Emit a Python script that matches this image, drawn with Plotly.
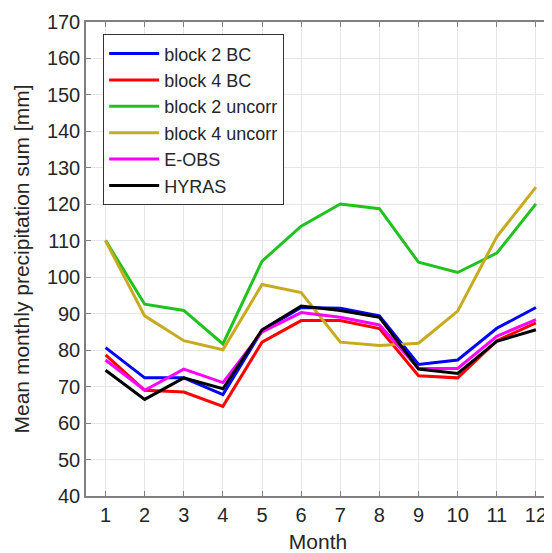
import plotly.graph_objects as go

months = list(range(1, 13))
block2_bc = [80.7, 72.4, 72.4, 67.8, 85.4, 91.7, 91.5, 89.4, 76.1, 77.3, 86.0, 91.7]
block4_bc = [78.7, 69.0, 68.5, 64.6, 82.2, 88.1, 88.1, 85.9, 73.0, 72.4, 82.6, 87.5]
block2_uncorr = [110.1, 92.6, 90.9, 81.7, 104.4, 114.0, 120.1, 118.8, 104.1, 101.3, 106.6, 120.1]
block4_uncorr = [110.0, 89.4, 82.6, 80.1, 98.0, 95.8, 82.2, 81.3, 81.9, 90.7, 111.1, 124.7]
e_obs = [77.3, 69.0, 74.8, 71.1, 85.0, 90.3, 89.0, 86.9, 75.0, 75.0, 83.8, 88.4]
hyras = [74.5, 66.5, 72.4, 69.4, 85.6, 92.1, 90.9, 89.0, 74.8, 73.6, 82.4, 85.6]

series = [
    ("block 2 BC", block2_bc, "#0000ff"),
    ("block 4 BC", block4_bc, "#ff0000"),
    ("block 2 uncorr", block2_uncorr, "#1fc21f"),
    ("block 4 uncorr", block4_uncorr, "#c8aa1e"),
    ("E-OBS", e_obs, "#ff00ff"),
    ("HYRAS", hyras, "#000000"),
]

fig = go.Figure()
for name, vals, col in series:
    fig.add_trace(go.Scatter(x=months, y=vals, mode="lines", name=name,
                             line=dict(color=col, width=3)))

font = "Liberation Sans, Arial, sans-serif"
# page body has an 8px default margin, so the figure is sized/offset to compensate
fig.update_layout(
    width=544, height=545,
    margin=dict(l=78, r=2, t=14, b=57),
    plot_bgcolor="white", paper_bgcolor="white",
    font=dict(family=font, size=20, color="#262626"),
    showlegend=True,
    legend=dict(x=0.037, y=0.974, xanchor="left", yanchor="top",
                bgcolor="white", bordercolor="#333333", borderwidth=1,
                itemwidth=50,
                font=dict(size=18, color="#262626"), tracegroupgap=0),
    xaxis=dict(range=[0.5, 12.36], tickvals=months, ticktext=[str(m) for m in months],
               automargin=False,
               showgrid=True, gridcolor="#e6e6e6", gridwidth=1,
               showline=True, linecolor="#808080", linewidth=1.5, mirror="ticks",
               ticks="inside", ticklen=5, tickcolor="#808080", zeroline=False,
               title=dict(text="Month", font=dict(size=21), standoff=14)),
    yaxis=dict(range=[40, 170], dtick=10, tick0=40,
               automargin=False,
               showgrid=True, gridcolor="#e6e6e6", gridwidth=1,
               showline=True, linecolor="#808080", linewidth=1.5, mirror="ticks",
               ticks="inside", ticklen=5, tickcolor="#808080", zeroline=False,
               title=dict(text="Mean monthly precipitation sum [mm]", font=dict(size=21), standoff=12)),
)

fig.write_html("out.html")
